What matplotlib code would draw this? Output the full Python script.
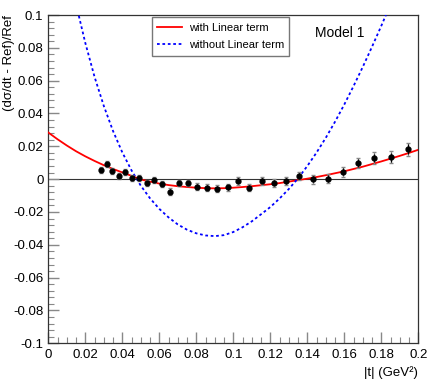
import matplotlib.pyplot as plt
from matplotlib.ticker import MultipleLocator

plt.rcParams['font.family'] = ['Liberation Sans', 'DejaVu Sans']

# data points
t_data = [0.0283, 0.0316, 0.0346, 0.0381, 0.0416, 0.0452, 0.0490, 0.0532,
          0.0573, 0.0616, 0.0659, 0.0706, 0.0755, 0.0805, 0.0858, 0.0910,
          0.0970, 0.1027, 0.1086, 0.1154, 0.1218, 0.1286, 0.1357, 0.1432,
          0.1510, 0.1591, 0.1676, 0.1761, 0.1852, 0.1946]
ratio = [0.0057, 0.0091, 0.0049, 0.0020, 0.0043, 0.0006, 0.0008, -0.0024,
         -0.0004, -0.0030, -0.0076, -0.0024, -0.0024, -0.0045, -0.0051, -0.0057,
         -0.0049, -0.0010, -0.0051, -0.0009, -0.0021, -0.0009, 0.0018, 0.0000,
         0.0004, 0.0046, 0.0099, 0.0130, 0.0134, 0.0183]
err_stat = [0.0012, 0.0012, 0.0012, 0.0012, 0.0012, 0.0012, 0.0012, 0.0013,
            0.0013, 0.0013, 0.0014, 0.0014, 0.0014, 0.0015, 0.0015, 0.0015,
            0.0016, 0.0016, 0.0016, 0.0017, 0.0017, 0.0018, 0.0019, 0.0020,
            0.0021, 0.0022, 0.0024, 0.0026, 0.0028, 0.0030]
err_tot = [0.0018, 0.0018, 0.0018, 0.0018, 0.0018, 0.0018, 0.0018, 0.0019,
           0.0019, 0.0019, 0.0020, 0.0020, 0.0020, 0.0021, 0.0021, 0.0022,
           0.0022, 0.0023, 0.0023, 0.0024, 0.0024, 0.0025, 0.0026, 0.0027,
           0.0028, 0.0030, 0.0032, 0.0035, 0.0037, 0.0040]

# fit with linear term (red)
t_lin = [0.0, 0.005, 0.01, 0.015, 0.02, 0.025, 0.03, 0.035, 0.04, 0.045, 0.05,
         0.055, 0.06, 0.065, 0.07, 0.075, 0.08, 0.085, 0.09, 0.095, 0.1, 0.105,
         0.11, 0.115, 0.12, 0.125, 0.13, 0.135, 0.14, 0.145, 0.15, 0.155, 0.16,
         0.165, 0.17, 0.175, 0.18, 0.185, 0.19, 0.195, 0.2]
r_lin = [0.0284, 0.0243, 0.0205, 0.0170, 0.0139, 0.0111, 0.0085, 0.0062, 0.0041,
         0.0020, -0.0002, -0.0015, -0.0027, -0.0036, -0.0043, -0.0048, -0.0052,
         -0.0055, -0.0056, -0.0055, -0.0052, -0.0048, -0.0043, -0.0037, -0.0031,
         -0.0024, -0.0015, -0.0006, 0.0003, 0.0013, 0.0024, 0.0036, 0.0048,
         0.0062, 0.0076, 0.0092, 0.0108, 0.0125, 0.0142, 0.0160, 0.0179]

# fit without linear term (blue)
t_nolin = [0.0165, 0.02, 0.025, 0.03, 0.035, 0.04, 0.045, 0.05, 0.055, 0.06,
           0.065, 0.07, 0.075, 0.08, 0.085, 0.09, 0.095, 0.1, 0.105, 0.11,
           0.115, 0.12, 0.125, 0.13, 0.135, 0.14, 0.145, 0.15, 0.155, 0.16,
           0.165, 0.17, 0.175, 0.18, 0.1825]
r_nolin = [0.0995, 0.0830, 0.0623, 0.0446, 0.0293, 0.0163, 0.0053, -0.0040,
           -0.0117, -0.0181, -0.0233, -0.0276, -0.0308, -0.0330, -0.0343,
           -0.0347, -0.0341, -0.0322, -0.0293, -0.0257, -0.0214, -0.0170,
           -0.0118, -0.0060, 0.0005, 0.0080, 0.0162, 0.0252, 0.0350, 0.0455,
           0.0567, 0.0684, 0.0807, 0.0934, 0.1000]

fig = plt.figure(figsize=(4.36, 3.82), dpi=100)
ax = fig.add_axes([0.1108, 0.1013, 0.8486, 0.8594])

ax.axhline(0, color='#333333', lw=0.8, zorder=1)
ax.plot(t_lin, r_lin, color='red', lw=1.3, label='with Linear term', zorder=3)
ax.plot(t_nolin, r_nolin, color='blue', lw=1.3, ls=(0, (1.5, 1.5)),
        label='without Linear term', zorder=3)
ax.errorbar(t_data, ratio, yerr=err_tot, fmt='none', ecolor='#888888',
            elinewidth=0.8, capsize=1.5, zorder=4)
ax.errorbar(t_data, ratio, yerr=err_stat, fmt='o', color='black', ms=3.5,
            elinewidth=0.9, capsize=0, zorder=5)

ax.set_xlim(0, 0.2)
ax.set_ylim(-0.1, 0.1)
ax.xaxis.set_minor_locator(MultipleLocator(0.005))
ax.yaxis.set_minor_locator(MultipleLocator(0.004))
ax.set_xticks([0, 0.02, 0.04, 0.06, 0.08, 0.1, 0.12, 0.14, 0.16, 0.18, 0.2])
ax.set_xticklabels(['0', '0.02', '0.04', '0.06', '0.08', '0.1', '0.12', '0.14',
                    '0.16', '0.18', '0.2'])
ax.set_yticks([-0.1, -0.08, -0.06, -0.04, -0.02, 0, 0.02, 0.04, 0.06, 0.08, 0.1])
ax.set_yticklabels(['-0.1', '-0.08', '-0.06', '-0.04', '-0.02', '0', '0.02',
                    '0.04', '0.06', '0.08', '0.1'])
ax.tick_params(which='both', direction='in', labelsize=9.5, color='#888888')
ax.tick_params(which='major', length=8, width=1)
ax.tick_params(which='minor', length=4, width=0.8)
ax.tick_params(axis='x', pad=4)
for s in ax.spines.values():
    s.set_color('#333333')
    s.set_linewidth(0.9)

# axis titles placed ROOT-style at the axis ends
fig.text(418 / 436, 1 - 373 / 382, '|t| (GeV\u00b2)', fontsize=9.5,
         ha='right', va='center')
fig.text(9 / 436, 1 - 15 / 382, '(d\u03c3/dt - Ref)/Ref', fontsize=9.5,
         rotation=90, ha='center', va='top')

ax.legend(loc='upper left', bbox_to_anchor=(0.280, 0.994), borderaxespad=0,
          fontsize=8, frameon=True, fancybox=False, edgecolor='#555555',
          handlelength=2.2, borderpad=0.5, labelspacing=0.7, handletextpad=0.6)
ax.text(0.787, 0.945, 'Model 1', transform=ax.transAxes, fontsize=10,
        ha='center', va='center')

fig.savefig('out.png', dpi=100)
